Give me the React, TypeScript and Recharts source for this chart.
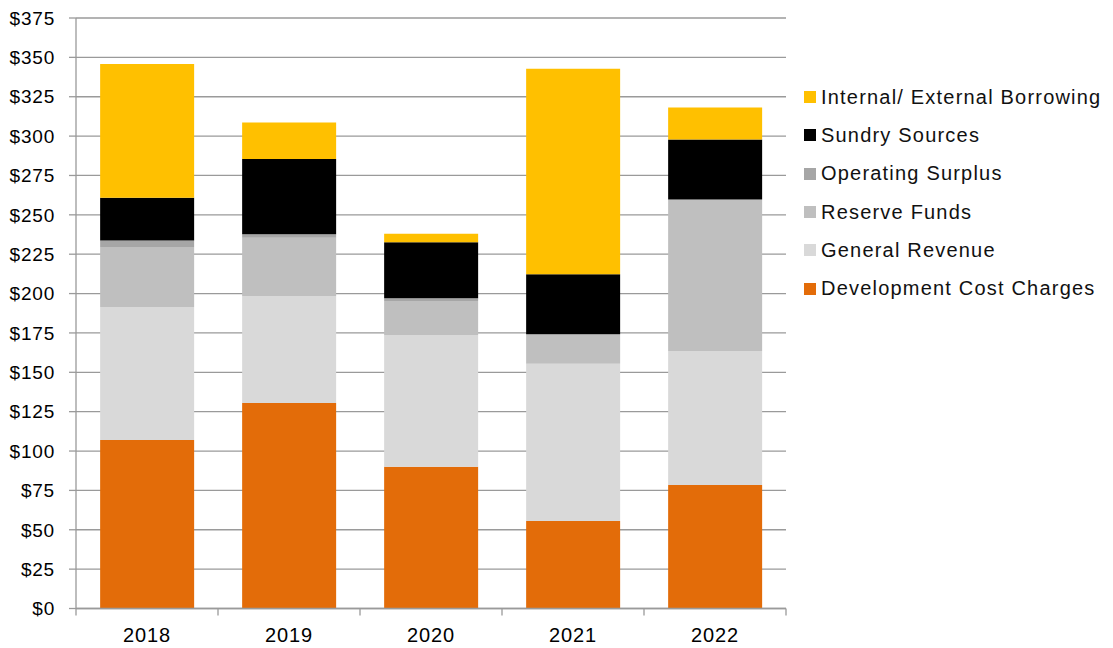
import React from "react"
import { BarChart, Bar, XAxis, YAxis, CartesianGrid } from "recharts"

// Capital funding sources by year ($ millions)
const years = ["2018", "2019", "2020", "2021", "2022"]
const developmentCostCharges = [107, 130.5, 90, 55.5, 78.5]
const generalRevenue = [84.5, 67.8, 83.5, 100, 85]
const reserveFunds = [38, 37.1, 21.8, 18.6, 96.2]
const operatingSurplus = [4.2, 2.2, 1.7, 0, 0]
const sundrySources = [27.1, 47.8, 35.6, 38.2, 38.1]
const borrowing = [85, 23.3, 5.4, 130.4, 20.4]
const yTicks = [0, 25, 50, 75, 100, 125, 150, 175, 200, 225, 250, 275, 300, 325, 350, 375]

// stacking order, bottom to top
const series = [
  { key: "dcc", name: "Development Cost Charges", color: "#E36C09", values: developmentCostCharges },
  { key: "general", name: "General Revenue", color: "#D9D9D9", values: generalRevenue },
  { key: "reserve", name: "Reserve Funds", color: "#BFBFBF", values: reserveFunds },
  { key: "surplus", name: "Operating Surplus", color: "#A6A6A6", values: operatingSurplus },
  { key: "sundry", name: "Sundry Sources", color: "#000000", values: sundrySources },
  { key: "borrowing", name: "Internal/ External Borrowing", color: "#FFC000", values: borrowing },
]

const data = years.map((year, i) => {
  const row: Record<string, string | number> = { year }
  series.forEach((s) => {
    row[s.key] = s.values[i]
  })
  return row
})

const FONT = "'Liberation Sans', Arial, Helvetica, sans-serif"
const AXIS_GREY = "#9A9A9A"

// category label with tick marks on the band edges
const YearTick = (props: any) => {
  const { x, y, payload, index, width } = props
  const half = payload?.offset || width / years.length / 2
  const last = index === years.length - 1
  return (
    <g>
      <line x1={x - half} y1={y} x2={x - half} y2={y + 7} stroke={AXIS_GREY} strokeWidth={1.3} />
      {last && <line x1={x + half} y1={y} x2={x + half} y2={y + 7} stroke={AXIS_GREY} strokeWidth={1.3} />}
      <text
        x={x}
        y={y + 33}
        textAnchor="middle"
        fill="#000"
        fontSize={20}
        fontFamily={FONT}
        letterSpacing={0.9}
      >
        {payload.value}
      </text>
    </g>
  )
}

const App = () => {
  return (
    <div style={{ position: "absolute", left: 0, top: 0, width: 1113, height: 648, background: "#fff" }}>
      <BarChart
        width={1113}
        height={648}
        data={data}
        barCategoryGap="17%"
        margin={{ top: 18, right: 327, left: 10, bottom: 9.5 }}
      >
        <CartesianGrid horizontal vertical={false} stroke={AXIS_GREY} strokeWidth={1.3} />
        <XAxis
          dataKey="year"
          height={30}
          stroke={AXIS_GREY}
          axisLine={{ stroke: AXIS_GREY, strokeWidth: 1.3 }}
          tickLine={false}
          tickSize={0}
          tickMargin={0}
          interval={0}
          tick={<YearTick />}
        />
        <YAxis
          width={66}
          domain={[0, 375]}
          ticks={yTicks}
          interval={0}
          axisLine={{ stroke: AXIS_GREY, strokeWidth: 1.3 }}
          tickLine={{ stroke: AXIS_GREY, strokeWidth: 1.3 }}
          tickSize={7}
          tickMargin={14}
          tickFormatter={(v) => `$${v}`}
          tick={{ fill: "#000", fontSize: 19, fontFamily: FONT, letterSpacing: 0.8 }}
        />
        {series.map((s) => (
          <Bar
            key={s.key}
            dataKey={s.key}
            name={s.name}
            stackId="funding"
            fill={s.color}
            isAnimationActive={false}
          />
        ))}
      </BarChart>

      {/* legend, top series first */}
      <div style={{ position: "absolute", left: 804, top: 78, fontFamily: FONT }}>
        {[...series].reverse().map((s) => (
          <div key={s.key} style={{ display: "flex", alignItems: "center", height: 38.3 }}>
            <div style={{ width: 12, height: 12, background: s.color, marginRight: 5 }} />
            <span style={{ fontSize: 20, letterSpacing: 1.2, color: "#111", whiteSpace: "nowrap" }}>{s.name}</span>
          </div>
        ))}
      </div>
    </div>
  )
}

export default App
